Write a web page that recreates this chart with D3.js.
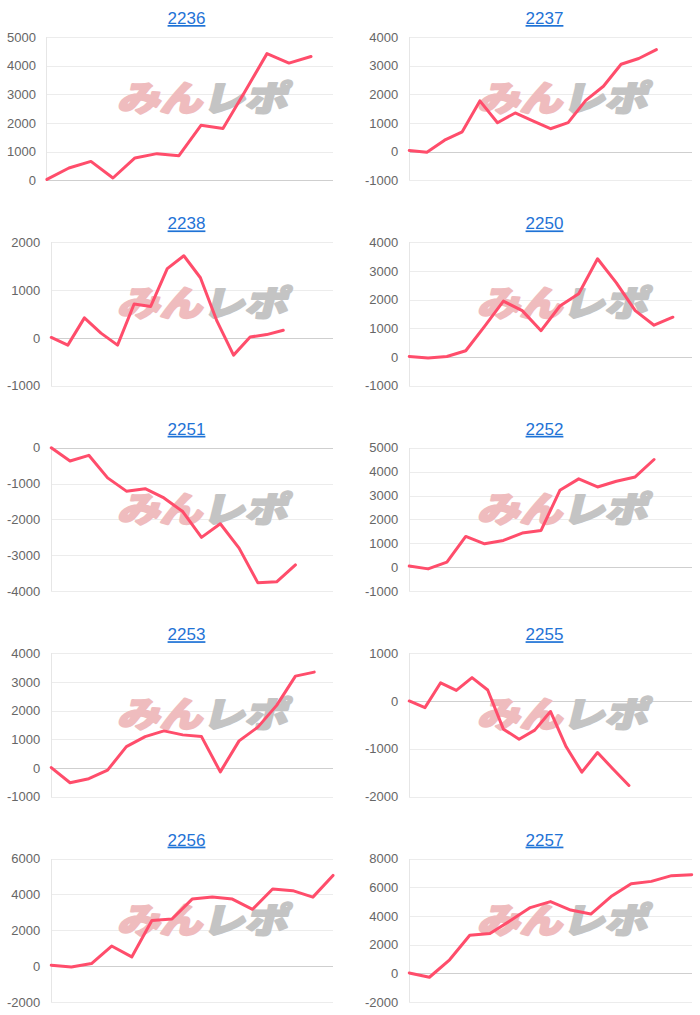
<!DOCTYPE html>
<html>
<head>
<meta charset="utf-8">
<script src="https://cdn.jsdelivr.net/npm/d3@7"></script>
<style>
  html, body { margin: 0; padding: 0; background: #fff; }
  svg { display: block; }
</style>
</head>
<body>
<svg id="chart" width="700" height="1015"></svg>
<script>
// ---- data ----
const titles = ["2236", "2237", "2238", "2250", "2251", "2252", "2253", "2255", "2256", "2257"];
const xSlots = [14, 17, 18, 16, 16, 16, 16, 19, 15, 15];

const v2236 = [30, 430, 660, 80, 780, 930, 860, 1920, 1810, 3100, 4420, 4090, 4320];
const v2237 = [40, -20, 400, 690, 1770, 1010, 1350, 1070, 800, 1010, 1790, 2280, 3050, 3250, 3560];
const v2238 = [10, -150, 420, 100, -150, 710, 660, 1450, 1720, 1260, 350, -360, 20, 70, 160];
const v2250 = [20, -30, 20, 220, 1070, 1950, 1620, 920, 1780, 2210, 3430, 2590, 1620, 1110, 1390];
const v2251 = [0, -370, -210, -840, -1210, -1140, -1400, -1780, -2500, -2120, -2800, -3770, -3740, -3270];
const v2252 = [50, -70, 210, 1290, 980, 1120, 1430, 1540, 3220, 3700, 3360, 3600, 3780, 4510];
const v2253 = [10, -520, -380, -80, 740, 1090, 1290, 1150, 1090, -140, 940, 1420, 2180, 3200, 3340];
const v2255 = [0, -140, 380, 220, 490, 230, -590, -800, -610, -220, -960, -1490, -1080, -1430, -1770];
const v2256 = [50, -50, 140, 1120, 510, 2540, 2630, 3740, 3850, 3740, 3170, 4300, 4210, 3850, 5060];
const v2257 = [20, -280, 940, 2650, 2770, 3660, 4580, 5000, 4410, 4130, 5350, 6240, 6410, 6810, 6880];

const t2236 = [0, 1000, 2000, 3000, 4000, 5000];
const t2237 = [-1000, 0, 1000, 2000, 3000, 4000];
const t2238 = [-1000, 0, 1000, 2000];
const t2250 = [-1000, 0, 1000, 2000, 3000, 4000];
const t2251 = [-4000, -3000, -2000, -1000, 0];
const t2252 = [-1000, 0, 1000, 2000, 3000, 4000, 5000];
const t2253 = [-1000, 0, 1000, 2000, 3000, 4000];
const t2255 = [-2000, -1000, 0, 1000];
const t2256 = [-2000, 0, 2000, 4000, 6000];
const t2257 = [-2000, 0, 2000, 4000, 6000, 8000];

const seriesList = [v2236, v2237, v2238, v2250, v2251, v2252, v2253, v2255, v2256, v2257];
const tickList = [t2236, t2237, t2238, t2250, t2251, t2252, t2253, t2255, t2256, t2257];

// ---- drawing ----
const svg = d3.select("#chart");
const FONT = "'Liberation Sans', Arial, Helvetica, sans-serif";
const LINE_COLOR = "#ff4d6b";
const ROW_H = 205.4;

const measurer = svg.append("text").attr("font-family", FONT).attr("font-size", 13).attr("visibility", "hidden");
function textW(s) { measurer.text(s); return measurer.node().getComputedTextLength(); }

titles.forEach((title, i) => {
  const col = i % 2, row = Math.floor(i / 2);
  const panelLeft = col ? 358 : 0;
  const plotRight = col ? 691.7 : 333;
  const rowY = row * ROW_H;
  const top = rowY + 37, bottom = rowY + 180.3;
  const ticks = tickList[i];
  const vals = seriesList[i];

  const maxW = d3.max(ticks, t => textW(String(t)));
  const axisX = panelLeft + 7 + maxW + 11;

  const g = svg.append("g");

  const y = d3.scaleLinear().domain([d3.min(ticks), d3.max(ticks)]).range([bottom, top]);
  const labels = d3.range(xSlots[i]).map(String);
  const x = d3.scalePoint().domain(labels).range([axisX, plotRight]);

  const yAxis = d3.axisLeft(y).tickValues(ticks).tickSize(-(plotRight - axisX)).tickPadding(11).tickFormat(d => String(d));
  const ag = g.append("g").attr("transform", `translate(${axisX},0)`).call(yAxis);
  ag.select(".domain").remove();
  ag.selectAll(".tick line")
    .attr("stroke", d => d === 0 ? "#cfcfcf" : "#ececec")
    .attr("stroke-width", 1)
    .attr("shape-rendering", "crispEdges");
  ag.selectAll(".tick text")
    .attr("font-family", FONT)
    .attr("font-size", 13)
    .attr("fill", "#666");
  g.append("line")
    .attr("x1", axisX).attr("x2", axisX)
    .attr("y1", top).attr("y2", bottom)
    .attr("stroke", "#e6e6e6").attr("shape-rendering", "crispEdges");

  // watermark
  const wmCx = col ? 562 : 202;
  const wm = g.append("text")
    .attr("transform", `translate(${wmCx - 85},${rowY + 111}) skewX(-14)`)
    .attr("font-family", "'Noto Sans CJK JP', sans-serif")
    .attr("font-weight", 900)
    .attr("font-size", 35)
    .attr("stroke-width", 2.2)
    .attr("stroke-linejoin", "round")
    .attr("textLength", 170)
    .attr("lengthAdjust", "spacingAndGlyphs");
  wm.append("tspan").attr("fill", "#efbcbe").attr("stroke", "#efbcbe").text("みん");
  wm.append("tspan").attr("fill", "#c4c4c4").attr("stroke", "#c4c4c4").text("レポ");

  // title
  svg.append("text")
    .attr("x", col ? 544.5 : 186.5)
    .attr("y", rowY + 24)
    .attr("text-anchor", "middle")
    .attr("font-family", FONT)
    .attr("font-size", 17)
    .attr("fill", "#1f73d6")
    .style("text-decoration", "underline")
    .text(title);

  // series line
  const line = d3.line()
    .x((d, k) => x(labels[k]))
    .y(d => y(d));
  g.append("path")
    .datum(vals)
    .attr("d", line)
    .attr("fill", "none")
    .attr("stroke", LINE_COLOR)
    .attr("stroke-width", 3)
    .attr("stroke-linejoin", "round")
    .attr("stroke-linecap", "round");
});
measurer.remove();
</script>
</body>
</html>
